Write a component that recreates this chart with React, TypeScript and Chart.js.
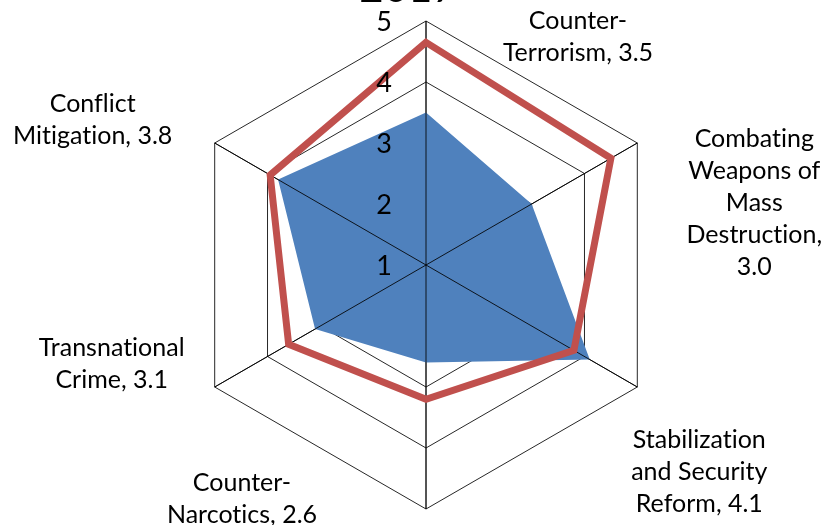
import React, { useEffect, useRef } from "react";
import { Chart, registerables } from "chart.js";

Chart.register(...registerables);

const categories: string[][] = [
  ["Counter-", "Terrorism, 3.5"],
  ["Combating", "Weapons of", "Mass", "Destruction,", "3.0"],
  ["Stabilization", "and Security", "Reform, 4.1"],
  ["Counter-", "Narcotics, 2.6"],
  ["Transnational", "Crime, 3.1"],
  ["Conflict", "Mitigation, 3.8"],
];
const seriesActual: number[] = [3.5, 3.0, 4.1, 2.6, 3.1, 3.8];
const seriesTarget: number[] = [4.65, 4.5, 3.8, 3.2, 3.6, 3.95];
const tickValues: number[] = [1, 2, 3, 4, 5];
const titleText = "2017";

const FONT = "Lato, 'Open Sans', sans-serif";

// label block offsets relative to outer vertex (center x, first line center y)
const labelOffsets: [number, number][] = [
  [152, 0],
  [117, -4],
  [62, 53],
  [-184, -26],
  [-103, -39],
  [-122, -39],
];
const LINE_H = 32;

const overlayPlugin = {
  id: "overlay",
  beforeDatasetDraw(chart: any, args: any) {
    if (args.index !== 1) return;
    const scale = chart.scales.r;
    const ctx = chart.ctx;
    ctx.save();
    ctx.strokeStyle = "rgba(0,0,0,0.85)";
    ctx.lineWidth = 1;
    for (let i = 0; i < categories.length; i++) {
      const p = scale.getPointPositionForValue(i, scale.max);
      ctx.beginPath();
      ctx.moveTo(scale.xCenter, scale.yCenter);
      ctx.lineTo(p.x, p.y);
      ctx.stroke();
    }
    ctx.restore();
  },
  afterDraw(chart: any) {
    const scale = chart.scales.r;
    const ctx = chart.ctx;
    ctx.save();
    try {
      (ctx as any).textRendering = "optimizeSpeed";
    } catch (e) {}
    ctx.fillStyle = "#000";
    // tick labels
    ctx.font = `27px ${FONT}`;
    ctx.textAlign = "center";
    ctx.textBaseline = "middle";
    tickValues.forEach((v) => {
      const p = scale.getPointPositionForValue(0, v);
      ctx.fillText(String(v), p.x - 42, p.y + 1);
    });
    // point labels
    ctx.font = `25px ${FONT}`;
    categories.forEach((lines, i) => {
      const p = scale.getPointPositionForValue(i, scale.max);
      const [dx, dy] = labelOffsets[i];
      lines.forEach((ln, j) => {
        ctx.fillText(ln, p.x + dx, p.y + dy + j * LINE_H);
      });
    });
    // title (mostly cut off at top)
    ctx.font = `42px ${FONT}`;
    ctx.textBaseline = "alphabetic";
    ctx.fillText(titleText, scale.xCenter - 18, 2);
    ctx.restore();
  },
};

export default function App() {
  const ref = useRef<HTMLCanvasElement>(null);
  useEffect(() => {
    if (!ref.current) return;
    const chart = new Chart(ref.current, {
      type: "radar",
      data: {
        labels: categories,
        datasets: [
          {
            label: "Actual",
            data: seriesActual,
            backgroundColor: "#4F81BD",
            borderColor: "#4F81BD",
            borderWidth: 0,
            fill: true,
            pointRadius: 0,
            order: 2,
          },
          {
            label: "Target",
            data: seriesTarget,
            backgroundColor: "transparent",
            borderColor: "#C0504D",
            borderWidth: 7,
            borderJoinStyle: "miter",
            fill: false,
            pointRadius: 0,
            order: 1,
          },
        ],
      },
      options: {
        responsive: false,
        animation: false,
        layout: { padding: { left: 182, right: 151, top: 21, bottom: 16 } },
        plugins: {
          legend: { display: false },
          title: { display: false },
          tooltip: { enabled: false },
        },
        scales: {
          r: {
            min: 1,
            max: 5,
            ticks: { stepSize: 1, display: false },
            pointLabels: { display: false },
            grid: { color: "rgba(0,0,0,0.85)", lineWidth: 1, circular: false },
            angleLines: { color: "rgba(0,0,0,0.85)", lineWidth: 1 },
          },
        },
      },
      plugins: [overlayPlugin],
    });
    return () => chart.destroy();
  }, []);
  return (
    <div style={{ position: "absolute", left: 0, top: 0, width: 821, height: 525, background: "#fff" }}>
      <canvas ref={ref} width={821} height={525} />
    </div>
  );
}
